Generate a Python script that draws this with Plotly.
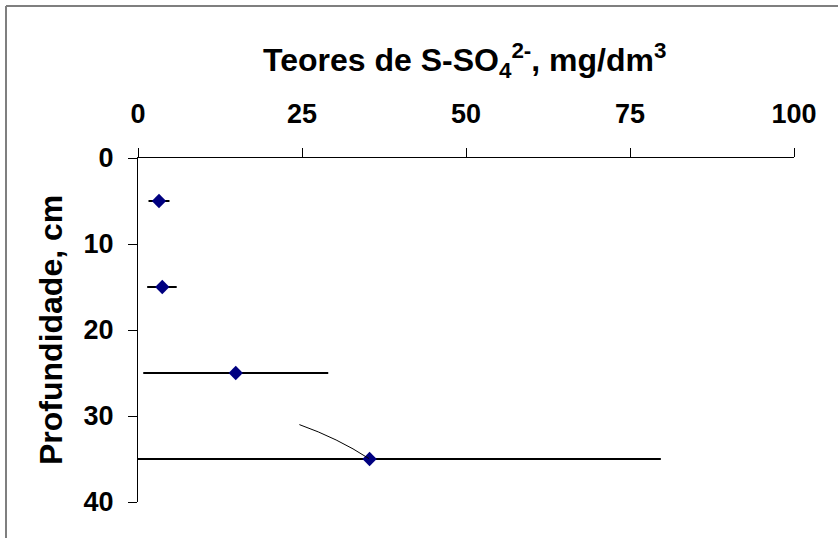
import plotly.graph_objects as go

# Data
depth_cm = [5, 15, 25, 35]
sulfate_mg_dm3 = [3.2, 3.7, 14.9, 35.3]
err_plus = [1.6, 2.2, 14.1, 44.4]
err_minus = [1.6, 2.3, 14.1, 35.9]
x_ticks = [0, 25, 50, 75, 100]
y_ticks = [0, 10, 20, 30, 40]

FONT = "Liberation Sans, Arial, sans-serif"

fig = go.Figure()
fig.add_trace(go.Scatter(
    x=sulfate_mg_dm3, y=depth_cm, mode="markers",
    marker=dict(symbol="diamond", size=11, color="#000080",
                line=dict(width=0)),
    error_x=dict(type="data", symmetric=False, array=err_plus,
                 arrayminus=err_minus, color="black", thickness=2, width=0),
    cliponaxis=False,
    showlegend=False,
))

L, R, T, B = 138, 44, 158, 36
W, H = 838, 538
pw, ph = W - L - R, H - T - B

def px(x):
    return (x - L) / pw

def py(y):
    return (H - B - y) / ph

fig.update_layout(
    width=W, height=H,
    margin=dict(l=L, r=R, t=T, b=B),
    paper_bgcolor="white", plot_bgcolor="white",
    font=dict(family=FONT, color="black"),
    xaxis=dict(
        side="top", range=[0, 100], tickvals=x_ticks,
        ticks="outside", ticklen=9, tickcolor="black", tickwidth=1,
        showline=True, linecolor="black", linewidth=1,
        showgrid=False, zeroline=False,
        tickfont=dict(family=FONT, size=27, weight="bold"),
        ticklabelstandoff=14,
    ),
    yaxis=dict(
        range=[40, 0], tickvals=y_ticks,
        ticks="outside", ticklen=9, tickcolor="black", tickwidth=1,
        showline=True, linecolor="black", linewidth=1,
        showgrid=False, zeroline=False,
        tickfont=dict(family=FONT, size=27, weight="bold"),
        ticklabelstandoff=9,
    ),
    annotations=[
        dict(text="Teores de S-SO<sub>4</sub><sup>2-</sup>, mg/dm<sup>3</sup>",
             xref="paper", yref="paper", x=px(464), y=py(61),
             xanchor="center", yanchor="middle", showarrow=False,
             font=dict(family=FONT, size=32, weight="bold")),
        dict(text="Profundidade, cm", textangle=-90,
             xref="paper", yref="paper", x=px(51), y=py(330),
             xanchor="center", yanchor="middle", showarrow=False,
             font=dict(family=FONT, size=32, weight="bold")),
    ],
    shapes=[
        dict(type="line", xref="paper", yref="paper",
             x0=px(6), y0=py(6), x1=px(838), y1=py(6),
             line=dict(color="#7f7f7f", width=2)),
        dict(type="line", xref="paper", yref="paper",
             x0=px(6), y0=py(6), x1=px(6), y1=py(538),
             line=dict(color="#7f7f7f", width=2)),
        dict(type="path", xref="x", yref="y",
             path="M 24.6,31 Q 30.5,32.6 35.2,34.95",
             line=dict(color="black", width=1)),
    ],
)

fig.write_html("out.html", config={"displayModeBar": False})

# remove the browser's default body margin so the figure sits at the page origin
with open("out.html", encoding="utf-8") as f:
    html = f.read()
html = html.replace("<body>", '<body style="margin:0;padding:0;overflow:hidden">', 1)
with open("out.html", "w", encoding="utf-8") as f:
    f.write(html)
